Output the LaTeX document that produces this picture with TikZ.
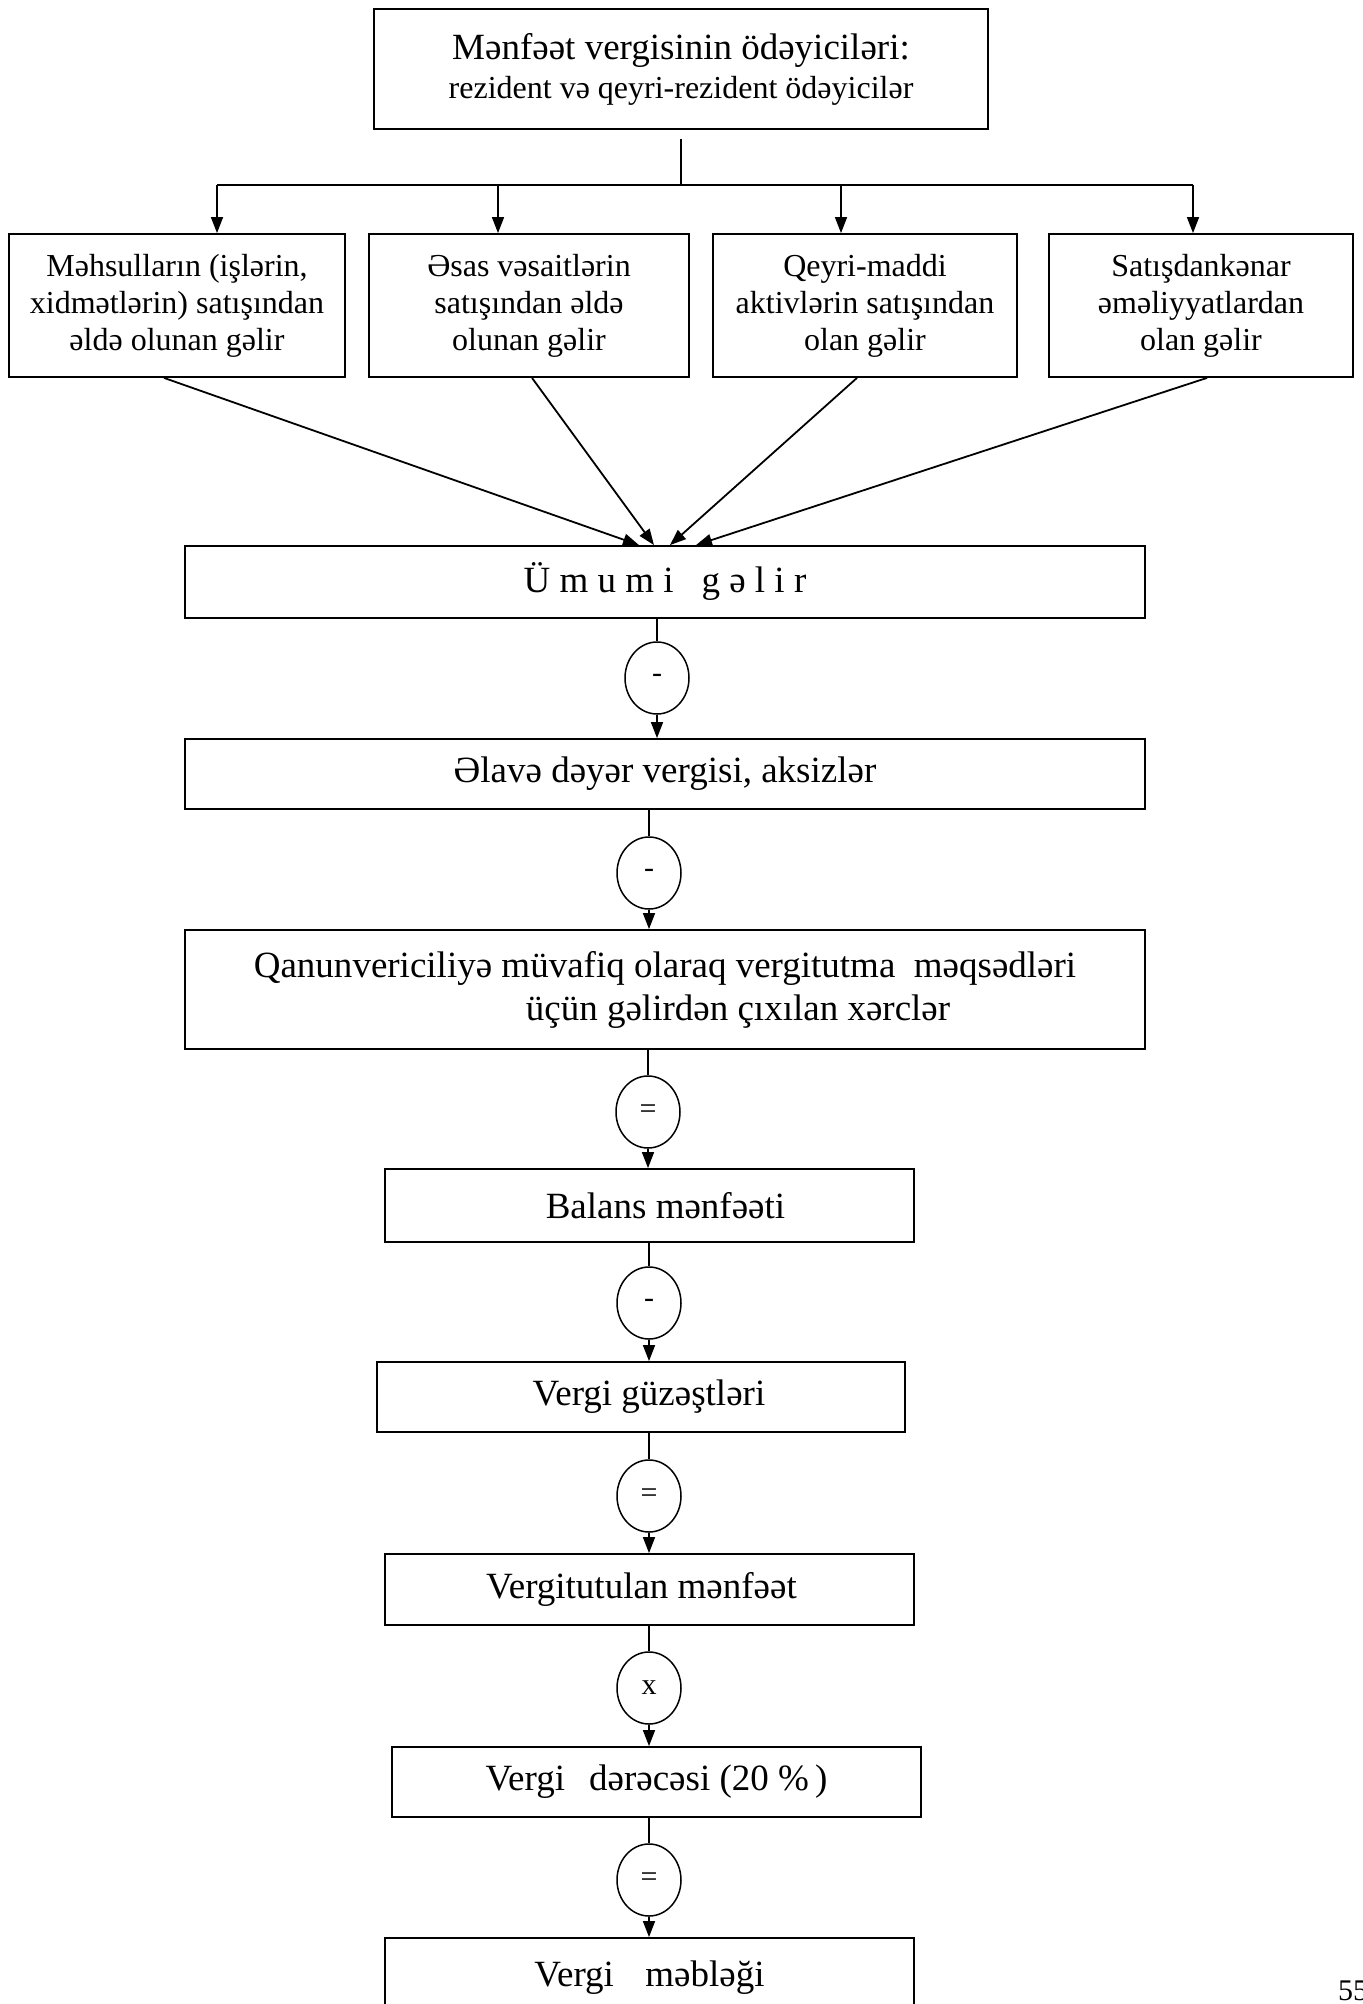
\documentclass[tikz,border=0pt]{standalone}
\usepackage{fontspec}
\setmainfont{Liberation Serif}
\usetikzlibrary{arrows.meta,shapes.geometric,calc}

\begin{document}
\begin{tikzpicture}[x=1pt,y=-1pt,
  box/.style={draw,line width=1.8pt,rectangle,inner sep=0pt,align=center},
  op/.style={draw,ellipse,line width=1.5pt,minimum width=64pt,minimum height=72pt,inner sep=0pt,font=\fontsize{30}{34}\selectfont},
  link/.style={line width=1.5pt},
  arr/.style={line width=1.5pt,-{Triangle[length=16pt,width=12pt]}},
  big/.style={font=\fontsize{37}{43}\selectfont},
  mid/.style={font=\fontsize{32}{37}\selectfont}]

\useasboundingbox (0,0) rectangle (1362,2004);
\clip (0,0) rectangle (1362,2004);

% taxpayers
\node[box,minimum width=614pt,minimum height=120pt,font=\fontsize{32}{42}\selectfont] (top) at (681,69)
  {{\fontsize{37}{42}\selectfont Mənfəət vergisinin ödəyiciləri:}\\[-3pt]rezident və qeyri-rezident ödəyicilər};

% income sources
\node[box,mid,minimum width=336pt,minimum height=143pt] (b1) at (177,305.5)
  {Məhsulların (işlərin,\\xidmətlərin) satışından\\əldə olunan gəlir};
\node[box,mid,minimum width=320pt,minimum height=143pt] (b2) at (529,305.5)
  {Əsas vəsaitlərin\\satışından əldə\\olunan gəlir};
\node[box,mid,minimum width=304pt,minimum height=143pt] (b3) at (865,305.5)
  {Qeyri-maddi\\aktivlərin satışından\\olan gəlir};
\node[box,mid,minimum width=304pt,minimum height=143pt] (b4) at (1201,305.5)
  {Satışdankənar\\əməliyyatlardan\\olan gəlir};

% fork from the taxpayers box
\coordinate (fork) at (681,185);
\coordinate (f1) at (217,185);
\coordinate (f2) at (498,185);
\coordinate (f3) at (841,185);
\coordinate (f4) at (1193,185);
\draw[link,shorten <=9pt] (top.south) -- (fork);
\draw[link] (f1) -- (f4);
\draw[arr] (f1) -- (f1 |- b1.north);
\draw[arr] (f2) -- (f2 |- b2.north);
\draw[arr] (f3) -- (f3 |- b3.north);
\draw[arr] (f4) -- (f4 |- b4.north);

% calculation chain
\node[box,big,minimum width=960pt,minimum height=72pt] (um) at (665,582) {Ü m u m i\ \ \ g ə l i r};
\node[box,big,minimum width=960pt,minimum height=70pt] (ela) at (665,774) {Əlavə dəyər vergisi, aksizlər};
\node[box,big,minimum width=960pt,minimum height=119pt] (qan) at (665,989.5)
  {Qanunvericiliyə müvafiq olaraq vergitutma\ \ məqsədləri\\\hspace*{146pt}üçün gəlirdən çıxılan xərclər};
\node[box,big,minimum width=529pt,minimum height=73pt] (bal) at (649.5,1205.5) {\hspace*{32pt}Balans mənfəəti};
\node[box,big,minimum width=528pt,minimum height=70pt] (guz) at (641,1397) {\hspace*{16pt}Vergi güzəştləri};
\node[box,big,minimum width=529pt,minimum height=71pt] (vtm) at (649.5,1589.5) {Vergitutulan mənfəət\hspace*{16pt}};
\node[box,big,minimum width=529pt,minimum height=70pt] (der) at (656.5,1782) {Vergi\hspace{0.65em}dərəcəsi (20 \%\,)};
\node[box,big,minimum width=529pt,minimum height=80pt] (mab) at (649.5,1978) {Vergi\hspace{0.85em}məbləği};

% operators
\node[op] (e1) at (657,678) {-};
\node[op] (e2) at (649,873) {-};
\node[op] (e3) at (648,1112) {=};
\node[op] (e4) at (649,1303) {-};
\node[op] (e5) at (649,1496) {=};
\node[op] (e6) at (649,1688) {x};
\node[op] (e7) at (649,1880) {=};

% converging arrows into total income
\draw[arr,line width=1.8pt] ([xshift=-13pt]b1.south) -- ([xshift=-26pt]um.north);
\draw[arr,line width=1.8pt] ([xshift=3pt]b2.south) -- ([xshift=-11pt]um.north);
\draw[arr,line width=1.8pt] ([xshift=-8pt]b3.south) -- ([xshift=5pt]um.north);
\draw[arr,line width=1.8pt] ([xshift=6pt]b4.south) -- ([xshift=31pt]um.north);

% links through the operators
\draw[link] (e1.north |- um.south) -- (e1.north);
\draw[arr] (e1.south) -- (e1.south |- ela.north);
\draw[link] (e2.north |- ela.south) -- (e2.north);
\draw[arr] (e2.south) -- (e2.south |- qan.north);
\draw[link] (e3.north |- qan.south) -- (e3.north);
\draw[arr] (e3.south) -- (e3.south |- bal.north);
\draw[link] (e4.north |- bal.south) -- (e4.north);
\draw[arr] (e4.south) -- (e4.south |- guz.north);
\draw[link] (e5.north |- guz.south) -- (e5.north);
\draw[arr] (e5.south) -- (e5.south |- vtm.north);
\draw[link] (e6.north |- vtm.south) -- (e6.north);
\draw[arr] (e6.south) -- (e6.south |- der.north);
\draw[link] (e7.north |- der.south) -- (e7.north);
\draw[arr] (e7.south) -- (e7.south |- mab.north);

% page number
\node[anchor=west,inner sep=0pt,font=\fontsize{30}{36}\selectfont] (pg) at (1338,1991) {55};
\end{tikzpicture}
\end{document}
